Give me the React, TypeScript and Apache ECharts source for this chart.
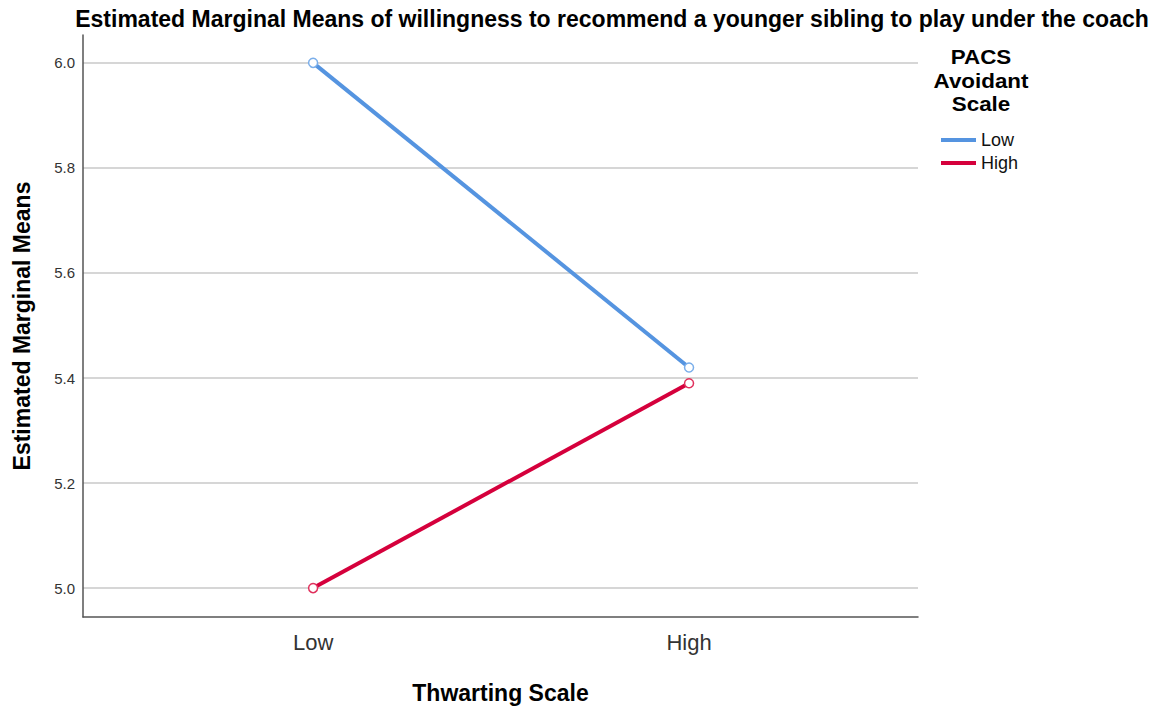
import React, { useEffect, useRef } from "react";
import * as echarts from "echarts";

const categories = ["Low", "High"];
const lowSeries = [6.0, 5.42];
const highSeries = [5.0, 5.39];
const yTicks = [5.0, 5.2, 5.4, 5.6, 5.8, 6.0];
const seriesNames = ["Low", "High"];
const seriesColors = ["#5594e0", "#d5003c"];
const markerColors = ["#7aaeea", "#e0305c"];
const legendTitleLines = ["PACS", "Avoidant", "Scale"];

export default function App() {
  const ref = useRef<HTMLDivElement>(null);
  useEffect(() => {
    const chart = echarts.init(ref.current!, null, { renderer: "svg" });
    const font = "Liberation Sans, Arial, sans-serif";
    const toPts = (arr: number[]) => arr.map((v, i) => [i, v]);
    chart.setOption({
      animation: false,
      textStyle: { fontFamily: font },
      title: {
        text: "Estimated Marginal Means of willingness to recommend a younger sibling to play under the coach",
        left: 607,
        textAlign: "center",
        top: 2,
        textStyle: { fontSize: 23, fontWeight: "bold", color: "#000", fontFamily: font },
      },
      graphic: legendTitleLines.map((t, i) => ({
        type: "text",
        x: 981,
        y: 57 + i * 23.5,
        scaleX: 1.12,
        style: {
          text: t,
          textAlign: "center",
          textVerticalAlign: "middle",
          font: "bold 20px Liberation Sans, Arial, sans-serif",
          fill: "#000",
        },
      })),
      legend: {
        orient: "vertical",
        left: 941,
        top: 130,
        padding: 0,
        itemWidth: 35,
        itemHeight: 4,
        itemGap: 3,
        icon: "rect",
        data: seriesNames.map((n, i) => ({
          name: n,
          itemStyle: { color: seriesColors[i], borderWidth: 0 },
        })),
        textStyle: { fontSize: 18, color: "#111", fontFamily: font, lineHeight: 20 },
      },
      grid: { left: 83, top: 35, right: 245, bottom: 90 },
      xAxis: {
        type: "value",
        min: -0.612,
        max: 1.609,
        name: "Thwarting Scale",
        nameLocation: "middle",
        nameGap: 64,
        nameTextStyle: { fontSize: 23, fontWeight: "bold", color: "#000" },
        axisLine: { show: true, onZero: false, lineStyle: { color: "#555", width: 1.5 } },
        axisTick: { show: false },
        splitLine: { show: false },
        axisLabel: {
          customValues: [0, 1],
          formatter: (v: number) => categories[Math.round(v)] ?? "",
          fontSize: 22,
          color: "#333",
          margin: 14,
        },
      },
      yAxis: {
        type: "value",
        min: 4.945,
        max: 6.053,
        name: "Estimated Marginal Means",
        nameLocation: "middle",
        nameGap: 50,
        nameRotate: 90,
        nameTextStyle: { fontSize: 23, fontWeight: "bold", color: "#000" },
        axisLine: { show: true, onZero: false, lineStyle: { color: "#555", width: 1.5 } },
        axisTick: { show: false, customValues: yTicks },
        axisLabel: {
          customValues: yTicks,
          formatter: (v: number) => v.toFixed(1),
          fontSize: 15,
          color: "#333",
          margin: 8,
        },
        splitLine: { show: true, lineStyle: { color: "#c8c8c8", width: 1.5 } },
      },
      series: [0, 1].map((i) => ({
        name: seriesNames[i],
        type: "line",
        data: toPts(i === 0 ? lowSeries : highSeries),
        color: seriesColors[i],
        lineStyle: { width: 4, color: seriesColors[i] },
        symbol: "circle",
        symbolSize: 9,
        itemStyle: { color: "#fff", borderColor: markerColors[i], borderWidth: 1.5 },
        z: 3,
      })),
    });
    return () => chart.dispose();
  }, []);
  return (
    <div
      ref={ref}
      style={{ position: "fixed", left: 0, top: 0, width: 1163, height: 709, background: "#fff" }}
    />
  );
}
